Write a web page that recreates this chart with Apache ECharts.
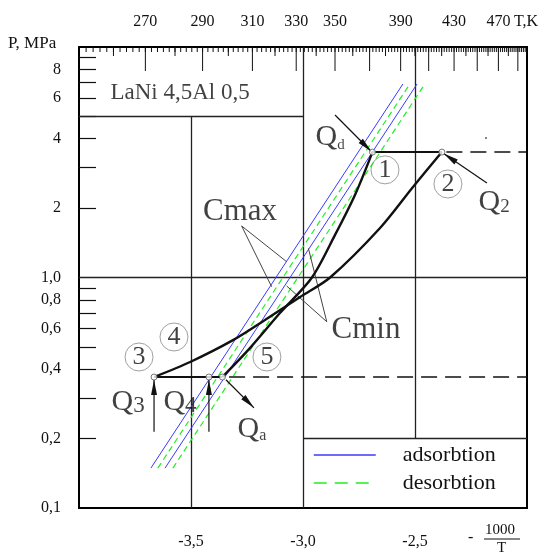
<!DOCTYPE html>
<html>
<head>
<meta charset="utf-8">
<script src="https://cdn.jsdelivr.net/npm/echarts@6.0.0/dist/echarts.min.js"></script>
<style>
  html, body { margin: 0; padding: 0; background: #fff; }
  #main { width: 541px; height: 554px; }
</style>
</head>
<body>
<div id="main"></div>
<script>
var SERIF = '"Liberation Serif", "DejaVu Serif", serif';

// axis ticks (x = -1000/T, P in MPa, log)
var pTicks = [0.2, 0.3, 0.4, 0.5, 0.6, 0.7, 0.8, 0.9, 2, 3, 4, 5, 6, 7, 8, 9];
var pLabels = [0.1, 0.2, 0.4, 0.6, 0.8, 1, 2, 4, 6, 8];
var tLabels = [270, 290, 310, 330, 350, 390, 430, 470];
var tMajor = [270, 290, 310, 330, 350, 370, 390, 410, 430, 450, 470, 490];
var tMedium = [260, 280, 300, 320, 340, 360, 380, 400, 420, 440, 460, 480];
var tMinor = [];
for (var t = 252; t < 500; t += 2) tMinor.push(t);

// isosteres: [x, P] end points
var adsMax = [[-3.679, 0.149], [-2.554, 6.91]];
var desMax = [[-3.648, 0.149], [-2.523, 6.91]];
var adsMin = [[-3.616, 0.149], [-2.491, 6.91]];
var desMin = [[-3.581, 0.149], [-2.456, 6.91]];

// cycle curves
var curve51 = [[-3.36, 0.37], [-3.237, 0.494], [-3.103, 0.701], [-2.96, 1.0], [-2.857, 1.53], [-2.768, 2.28], [-2.69, 3.5]];
var curve32 = [[-3.665, 0.37], [-3.504, 0.43], [-3.3125, 0.535], [-3.17, 0.654], [-3.013, 0.823], [-2.879, 1.0], [-2.656, 1.64], [-2.509, 2.47], [-2.38, 3.5]];
var lowSolid = [[-3.665, 0.37], [-3.36, 0.37]];
var highSolid = [[-2.69, 3.5], [-2.38, 3.5]];
var lowDashed = [[-3.33, 0.37], [-2.0, 0.37]];
var highDashed = [[-2.36, 3.5], [-2.0, 3.5]];

// state points 1..5
var statePts = [[-2.69, 3.5], [-2.38, 3.5], [-3.665, 0.37], [-3.42, 0.37], [-3.36, 0.37]];
var circled = [[-2.634, 2.93, '1'], [-2.353, 2.545, '2'], [-3.732, 0.452, '3'], [-3.576, 0.552, '4'], [-3.161, 0.452, '5']];

// heat arrows: x1, P1, x2, P2
var arrows = [
  [-2.857, 5.07, -2.695, 3.52],
  [-2.179, 2.57, -2.372, 3.45],
  [-3.665, 0.214, -3.665, 0.359],
  [-3.42, 0.214, -3.42, 0.359],
  [-3.344, 0.36, -3.219, 0.272]
];
var qNotes = [['d', -2.879, 4.06], ['2', -2.147, 2.126], ['3', -3.781, 0.288], ['4', -3.549, 0.288], ['a', -3.228, 0.220]];

// leaders for Cmax / Cmin
var cmaxLeader = [[[-3.274, 1.673], [-3.140, 0.912]], [[-3.274, 1.673], [-3.073, 1.171]]];
var cminLeader = [[[-2.894, 0.643], [-2.976, 1.339]], [[-2.894, 0.643], [-3.073, 0.919]]];
var textNotes = [['LaNi 4,5Al 0,5', -3.549, 6.31, 23], ['Cmax', -3.281, 1.923, 31], ['Cmin', -2.719, 0.592, 31]];

// partial frame lines
var frameLines = [
  [[-4, 1], [-2, 1]],
  [[-4, 5], [-3, 5]],
  [[-3.5, 5], [-3.5, 0.1]],
  [[-3, 10], [-3, 0.1]],
  [[-2.5, 10], [-2.5, 0.2]],
  [[-3, 0.2], [-2, 0.2]]
];
var strayDot = [[-2.183, 4.03]];

function invT(T) { return -1000 / T; }
function fmtP(v) {
  if (Math.abs(v - 1) < 1e-9) return '1,0';
  if (v < 1) return v.toFixed(1).replace('.', ',');
  return String(Math.round(v));
}
function segs(list) { return list.map(function (s) { return { coords: s }; }); }

var subSize = { d: 15, '2': 19, '3': 23, '4': 23, a: 16 };

// top T-scale ticks: [x, P at top edge, length]
var topTickData = []
  .concat(tMinor.map(function (T) { return [invT(T), 10, 5]; }))
  .concat(tMedium.map(function (T) { return [invT(T), 10, 9]; }))
  .concat(tMajor.map(function (T) { return [invT(T), 10, 24]; }));

var chart = echarts.init(document.getElementById('main'));

var option = {
  animation: false,
  backgroundColor: '#fff',
  grid: { left: 79, right: 14, top: 47, bottom: 46, show: true, borderColor: '#000', borderWidth: 2, outerBoundsMode: 'none' },
  legend: {
    orient: 'vertical', left: 313, top: 444, padding: 0,
    itemWidth: 62, itemHeight: 14, itemGap: 6,
    itemStyle: { opacity: 0 },
    data: [
      { name: 'adsorbtion', lineStyle: { width: 1.5 } },
      { name: 'desorbtion', lineStyle: { width: 1.5, type: [13, 8] } }
    ],
    textStyle: { fontFamily: SERIF, fontSize: 22, color: '#111', padding: [0, 0, 0, 22] }
  },
  xAxis: [
    {
      type: 'value', min: -4, max: -2, interval: 0.5, position: 'bottom',
      axisLine: { show: true, lineStyle: { color: '#000', width: 2 } },
      axisTick: { show: false }, splitLine: { show: false },
      axisLabel: {
        margin: 26, showMinLabel: false, showMaxLabel: false,
        formatter: function (v) { return v.toFixed(1).replace('.', ','); },
        fontFamily: SERIF, fontSize: 16, color: '#111'
      }
    },
    {
      type: 'value', min: -4, max: -2, position: 'top',
      axisLine: { show: false }, splitLine: { show: false }, axisTick: { show: false },
      axisLabel: {
        customValues: tLabels.map(invT), margin: 17,
        formatter: function (v) { return String(Math.round(-1000 / v)); },
        fontFamily: SERIF, fontSize: 16, color: '#111'
      }
    }
  ],
  yAxis: {
    type: 'log', logBase: 10, min: 0.1, max: 10,
    axisLine: { show: true, lineStyle: { color: '#000', width: 2 } },
    splitLine: { show: false },
    minorTick: { show: false },
    axisTick: { show: true, inside: true, length: 17, customValues: pTicks, lineStyle: { color: '#111', width: 1.2 } },
    axisLabel: { customValues: pLabels, margin: 18, formatter: fmtP, fontFamily: SERIF, fontSize: 16, color: '#111' }
  },
  graphic: [
    { type: 'text', left: 8, top: 35, style: { text: 'P, MPa', font: '17px ' + SERIF, fill: '#111' } },
    { type: 'text', left: 514, top: 14, style: { text: 'T,K', font: '16px ' + SERIF, fill: '#111' } },
    { type: 'text', left: 468, top: 530, style: { text: '-', font: '16px ' + SERIF, fill: '#111' } },
    { type: 'text', left: 485, top: 523, style: { text: '1000', font: '15px ' + SERIF, fill: '#111' } },
    { type: 'line', shape: { x1: 484, y1: 539, x2: 520, y2: 539 }, style: { stroke: '#111', lineWidth: 1.2 } },
    { type: 'text', left: 497, top: 541, style: { text: 'T', font: '15px ' + SERIF, fill: '#111' } }
  ],
  series: [
    {
      type: 'custom', silent: true, clip: false, z: 2,
      encode: { x: 0, y: 1 },
      data: topTickData,
      renderItem: function (params, api) {
        var p = api.coord([api.value(0), api.value(1)]);
        return {
          type: 'line',
          shape: { x1: p[0], y1: p[1], x2: p[0], y2: p[1] + api.value(2) },
          style: { stroke: '#111', lineWidth: 1 }
        };
      }
    },
    {
      type: 'lines', coordinateSystem: 'cartesian2d', silent: true, z: 1,
      lineStyle: { color: '#222', width: 1.3, opacity: 1 },
      data: segs(frameLines)
    },
    { name: 'adsorbtion', type: 'line', symbol: 'none', data: adsMax, lineStyle: { color: '#3a3aff', width: 1 }, itemStyle: { color: '#3a3aff' }, z: 3 },
    { name: 'adsorbtion', type: 'line', symbol: 'none', data: adsMin, lineStyle: { color: '#3a3aff', width: 1 }, itemStyle: { color: '#3a3aff' }, z: 3 },
    { name: 'desorbtion', type: 'line', symbol: 'none', data: desMax, lineStyle: { color: '#22ee22', width: 1.2, type: [6, 4] }, itemStyle: { color: '#22ee22' }, z: 3 },
    { name: 'desorbtion', type: 'line', symbol: 'none', data: desMin, lineStyle: { color: '#22ee22', width: 1.2, type: [6, 4] }, itemStyle: { color: '#22ee22' }, z: 3 },
    { type: 'line', symbol: 'none', smooth: 0.3, data: curve51, lineStyle: { color: '#111', width: 2.4 }, z: 4 },
    { type: 'line', symbol: 'none', smooth: 0.3, data: curve32, lineStyle: { color: '#111', width: 2.4 }, z: 4 },
    { type: 'line', symbol: 'none', data: lowSolid, lineStyle: { color: '#111', width: 2 }, z: 4 },
    { type: 'line', symbol: 'none', data: highSolid, lineStyle: { color: '#111', width: 2 }, z: 4 },
    {
      type: 'lines', coordinateSystem: 'cartesian2d', silent: true, z: 4,
      lineStyle: { color: '#111', width: 1.5, type: [16, 8], opacity: 1 },
      data: segs([lowDashed, highDashed])
    },
    {
      type: 'lines', coordinateSystem: 'cartesian2d', silent: true, z: 4,
      lineStyle: { color: '#444', width: 1, opacity: 1 },
      data: segs(cmaxLeader.concat(cminLeader))
    },
    {
      type: 'custom', z: 5, silent: true,
      encode: { x: [0, 2], y: [1, 3] },
      data: arrows,
      renderItem: function (params, api) {
        var p1 = api.coord([api.value(0), api.value(1)]);
        var p2 = api.coord([api.value(2), api.value(3)]);
        var dx = p2[0] - p1[0], dy = p2[1] - p1[1];
        var len = Math.sqrt(dx * dx + dy * dy);
        var ux = dx / len, uy = dy / len, hl = 15, hw = 3;
        var bx = p2[0] - ux * hl, by = p2[1] - uy * hl;
        return {
          type: 'group', children: [
            { type: 'line', shape: { x1: p1[0], y1: p1[1], x2: p2[0], y2: p2[1] }, style: { stroke: '#111', lineWidth: 1.2 } },
            { type: 'polygon', shape: { points: [[p2[0], p2[1]], [bx - uy * hw, by + ux * hw], [bx + uy * hw, by - ux * hw]] }, style: { fill: '#111' } }
          ]
        };
      }
    },
    {
      type: 'scatter', symbol: 'circle', symbolSize: 6, z: 6, silent: true,
      itemStyle: { color: '#fff', borderColor: '#555', borderWidth: 1 },
      data: statePts
    },
    {
      type: 'scatter', symbol: 'circle', symbolSize: 28, z: 6, silent: true,
      itemStyle: { color: 'rgba(255,255,255,0)', borderColor: '#888', borderWidth: 1 },
      label: { show: true, position: 'inside', formatter: function (p) { return p.value[2]; }, fontFamily: SERIF, fontSize: 26, color: '#111' },
      data: circled
    },
    {
      type: 'scatter', symbolSize: 0, z: 7, silent: true,
      data: textNotes.map(function (n) {
        return { value: [n[1], n[2]], label: { show: true, position: 'inside', formatter: n[0], fontFamily: SERIF, fontSize: n[3], color: '#111' } };
      })
    },
    {
      type: 'scatter', symbolSize: 0, z: 7, silent: true,
      data: qNotes.map(function (n) {
        return {
          value: [n[1], n[2]],
          label: {
            show: true, position: 'inside', formatter: '{q|Q}{s|' + n[0] + '}', color: '#111',
            rich: {
              q: { fontFamily: SERIF, fontSize: 30, lineHeight: 30, verticalAlign: 'bottom' },
              s: { fontFamily: SERIF, fontSize: subSize[n[0]], lineHeight: 26, verticalAlign: 'bottom' }
            }
          }
        };
      })
    },
    {
      type: 'scatter', symbol: 'circle', symbolSize: 2, z: 6, silent: true,
      itemStyle: { color: '#333' }, data: strayDot
    }
  ]
};

chart.setOption(option);
</script>
</body>
</html>
